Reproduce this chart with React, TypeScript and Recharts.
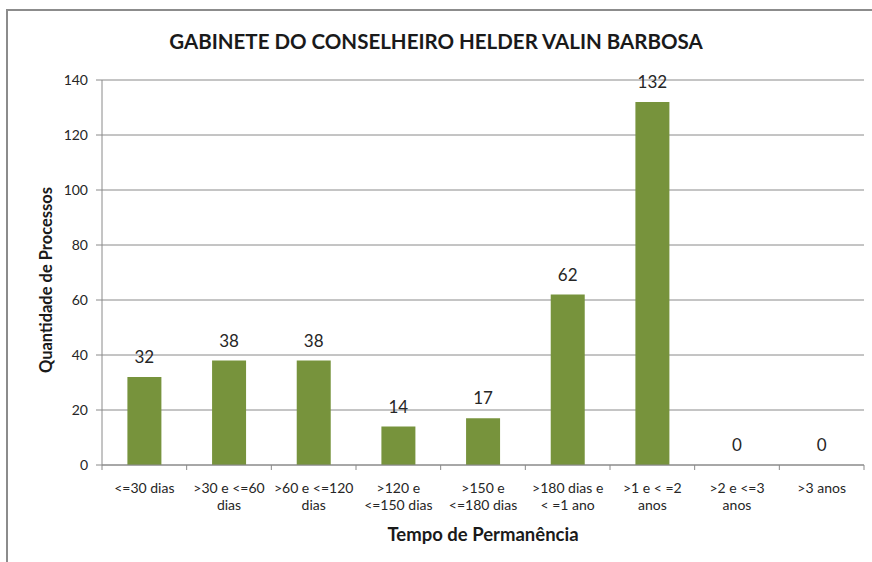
import React from "react";
import {
  ComposedChart,
  Bar,
  Line,
  XAxis,
  YAxis,
  CartesianGrid,
  LabelList,
} from "recharts";

const categories = [
  "<=30 dias",
  ">30 e <=60\ndias",
  ">60 e <=120\ndias",
  ">120 e\n<=150 dias",
  ">150 e\n<=180 dias",
  ">180 dias e\n< =1 ano",
  ">1 e < =2\nanos",
  ">2 e <=3\nanos",
  ">3 anos",
];
const processos = [32, 38, 38, 14, 17, 62, 132, 0, 0];
const yTicks = [0, 20, 40, 60, 80, 100, 120, 140];

const data = categories.map((c, i) => ({ cat: c, value: processos[i] }));

const W = 872;
const H = 562;
const MARGIN = { top: 80, right: 8, bottom: 37, left: 0 };
const Y_AXIS_W = 102;
const BAND = (W - MARGIN.left - MARGIN.right - Y_AXIS_W) / categories.length;

const FONT = "Lato, 'Open Sans', sans-serif";
const GRID = "#8a8a8a";
const TEXT = "#262626";
const GREEN = "#77933c";

const CatTick = (props: any) => {
  const { x, y, payload, index } = props;
  const lines = String(payload.value).split("\n");
  const left = x - BAND / 2;
  return (
    <g>
      <line x1={left} y1={y} x2={left} y2={y + 5} stroke={GRID} />
      {index === categories.length - 1 && (
        <line x1={left + BAND} y1={y} x2={left + BAND} y2={y + 5} stroke={GRID} />
      )}
      <text x={x} y={y} textAnchor="middle" fontFamily={FONT} fontSize={14} fill={TEXT}>
        {lines.map((l, i) => (
          <tspan key={i} x={x} dy={i === 0 ? 28 : 17}>
            {l}
          </tspan>
        ))}
      </text>
    </g>
  );
};

// labels sit on an invisible line so that the zero values get one too
const ValueLabel = (props: any) => {
  const { x, y, value } = props;
  return (
    <text x={x} y={Number(y) - 14} textAnchor="middle" fontFamily={FONT} fontSize={17} fill={TEXT}>
      {value}
    </text>
  );
};

export default function App() {
  return (
    <div style={{ position: "absolute", left: 0, top: 0, width: W, height: H, background: "#fff", fontFamily: FONT }}>
      <div
        style={{
          position: "absolute",
          left: 6,
          top: 9,
          width: W - 6,
          height: H - 9,
          borderLeft: "2px solid #8c8c8c",
          borderTop: "2px solid #8c8c8c",
          boxSizing: "border-box",
        }}
      />
      <ComposedChart width={W} height={H} data={data} margin={MARGIN} barCategoryGap="30%">
        <CartesianGrid vertical={false} stroke={GRID} />
        <XAxis
          dataKey="cat"
          interval={0}
          height={60}
          axisLine={{ stroke: GRID }}
          tickLine={false}
          tickSize={0}
          tickMargin={0}
          tick={<CatTick />}
        />
        <YAxis
          width={Y_AXIS_W}
          domain={[0, 140]}
          ticks={yTicks}
          interval={0}
          axisLine={{ stroke: GRID }}
          tickLine={{ stroke: GRID }}
          tickSize={6}
          tickMargin={8}
          tick={{ fontFamily: FONT, fontSize: 14, fill: TEXT }}
        />
        <Bar dataKey="value" fill={GREEN} isAnimationActive={false} />
        <Line
          dataKey="value"
          stroke="none"
          dot={false}
          activeDot={false}
          isAnimationActive={false}
        >
          <LabelList dataKey="value" content={<ValueLabel />} />
        </Line>
      </ComposedChart>
      <div
        style={{
          position: "absolute",
          left: 0,
          width: W,
          top: 29,
          textAlign: "center",
          fontSize: 20.5,
          fontWeight: 700,
          color: "#1a1a1a",
        }}
      >
        GABINETE DO CONSELHEIRO HELDER VALIN BARBOSA
      </div>
      <div
        style={{
          position: "absolute",
          left: 333,
          width: 300,
          top: 523,
          textAlign: "center",
          fontSize: 18.5,
          fontWeight: 700,
          color: "#1a1a1a",
        }}
      >
        Tempo de Permanência
      </div>
      <div
        style={{
          position: "absolute",
          left: 46 - 130,
          top: 280 - 11,
          width: 260,
          height: 22,
          lineHeight: "22px",
          textAlign: "center",
          fontSize: 16.5,
          fontWeight: 700,
          color: "#1a1a1a",
          transform: "rotate(-90deg)",
        }}
      >
        Quantidade de Processos
      </div>
    </div>
  );
}
